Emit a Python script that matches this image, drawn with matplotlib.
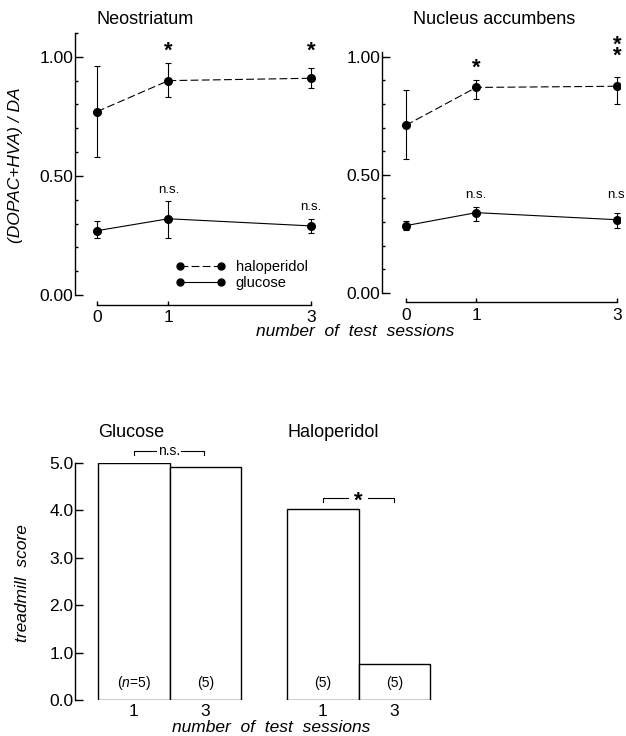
import matplotlib
matplotlib.use('Agg')
import matplotlib.pyplot as plt
from matplotlib.lines import Line2D
from matplotlib.ticker import MultipleLocator
import numpy as np

plt.rcParams['font.family'] = ['Liberation Sans', 'DejaVu Sans']
plt.rcParams['mathtext.fontset'] = 'custom'
plt.rcParams['mathtext.rm'] = 'Liberation Sans'
plt.rcParams['mathtext.it'] = 'Liberation Sans:italic'

W, H = 626, 736

# ── data ─────────────────────────────────────────────────────────────────────
sessions = [0, 1, 3]

neo_halo_mean = [0.77, 0.90, 0.91]
neo_halo_lo   = [0.58, 0.83, 0.87]
neo_halo_hi   = [0.96, 0.975, 0.955]
neo_glu_mean  = [0.27, 0.32, 0.29]
neo_glu_lo    = [0.24, 0.24, 0.26]
neo_glu_hi    = [0.31, 0.395, 0.32]

acc_halo_mean = [0.71, 0.87, 0.875]
acc_halo_lo   = [0.565, 0.82, 0.80]
acc_halo_hi   = [0.86, 0.90, 0.915]
acc_glu_mean  = [0.285, 0.34, 0.31]
acc_glu_lo    = [0.265, 0.305, 0.275]
acc_glu_hi    = [0.305, 0.365, 0.34]

bar_sessions  = ['1', '3']
glucose_score = [5.0, 4.92]
halo_score    = [4.04, 0.75]
n_labels_glu  = ['($n$=5)', '(5)']
n_labels_halo = ['(5)', '(5)']

DASH = (0, (7, 3))
STAR = dict(ha='center', va='baseline', fontsize=16, fontweight='bold', clip_on=False)


def px_axes(left, top, right, bottom):
    return fig.add_axes([left / W, 1 - bottom / H, (right - left) / W, (bottom - top) / H])


def style_top(ax, ytop):
    ax.set_ylim(-0.04, ytop)
    ax.spines['top'].set_visible(False)
    ax.spines['right'].set_visible(False)
    ax.spines['left'].set_bounds(0, ytop if ytop < 1.05 else 1.1)
    ax.spines['bottom'].set_bounds(0, 3)
    for sp in ('left', 'bottom'):
        ax.spines[sp].set_linewidth(1.0)
    ax.set_yticks([0, 0.5, 1.0])
    ax.set_yticklabels(['0.00', '0.50', '1.00'])
    ax.yaxis.set_minor_locator(MultipleLocator(0.1))
    ax.tick_params(axis='y', which='major', direction='in', length=6, width=1,
                   pad=1, labelsize=12.5)
    ax.tick_params(axis='y', which='minor', direction='in', length=2.5, width=1)
    ax.set_xticks(sessions)
    ax.tick_params(axis='x', direction='in', length=3, width=1, pad=4, labelsize=12.5)


def draw_series(ax, mean, lo, hi, ls):
    mean = np.array(mean)
    yerr = [mean - np.array(lo), np.array(hi) - mean]
    ax.errorbar(sessions, mean, yerr=yerr, color='black', ls=ls, lw=0.8,
                marker='o', ms=5.5, capsize=2.5, elinewidth=0.8, capthick=0.8)


fig = plt.figure(figsize=(W / 100, H / 100), dpi=100)

# ── Neostriatum ──────────────────────────────────────────────────────────────
ax1 = px_axes(75, 33, 314.6, 304.5)
ax1.set_xlim(-0.31, 3.05)
draw_series(ax1, neo_halo_mean, neo_halo_lo, neo_halo_hi, DASH)
draw_series(ax1, neo_glu_mean, neo_glu_lo, neo_glu_hi, '-')
style_top(ax1, 1.1)
ax1.text(1, 1.0, '*', **STAR)
ax1.text(3, 1.0, '*', **STAR)
ax1.text(1, 0.44, 'n.s.', ha='center', va='center', fontsize=9.5)
ax1.text(3, 0.37, 'n.s.', ha='center', va='center', fontsize=9.5)
handles = [Line2D([], [], color='black', ls=DASH, lw=0.8, marker='o', ms=5),
           Line2D([], [], color='black', ls='-', lw=0.8, marker='o', ms=5)]
fig.legend(handles, ['haloperidol', 'glucose'], loc='center left',
           bbox_to_anchor=(176 / W, 1 - 275 / H), frameon=False, numpoints=2,
           handlelength=3.4, handletextpad=0.7, labelspacing=0.15,
           borderpad=0, borderaxespad=0, fontsize=10.5)

# ── Nucleus accumbens ────────────────────────────────────────────────────────
ax2 = px_axes(382, 52, 620.4, 302.4)
ax2.set_xlim(-0.34, 3.05)
draw_series(ax2, acc_halo_mean, acc_halo_lo, acc_halo_hi, DASH)
draw_series(ax2, acc_glu_mean, acc_glu_lo, acc_glu_hi, '-')
style_top(ax2, 1.02)
for a in (ax1, ax2):
    for t in a.get_xticklabels() + a.get_yticklabels():
        t.set_clip_on(False)
ax2.text(1, 0.928, '*', **STAR)
ax2.text(3.01, 1.025, '*', **STAR)
ax2.text(3.01, 0.979, '*', **STAR)
ax2.text(1, 0.415, 'n.s.', ha='center', va='center', fontsize=9.5)
ax2.text(2.86, 0.415, 'n.s', ha='left', va='center', fontsize=9.5, clip_on=False)

fig.text(97 / W, 1 - 20 / H, 'Neostriatum', ha='left', va='center', fontsize=13)
fig.text(413 / W, 1 - 20 / H, 'Nucleus accumbens', ha='left', va='center', fontsize=13)
fig.text(16 / W, 1 - 165 / H, '(DOPAC+HVA) / DA', rotation=90, ha='center',
         va='center', fontsize=12.5, style='italic')
fig.text(355 / W, 1 - 332 / H, 'number  of  test  sessions', ha='center',
         va='center', fontsize=12.5, style='italic')

# ── Treadmill bars ───────────────────────────────────────────────────────────
ax3 = px_axes(75, 463, 455.75, 700)
ax3.set_xlim(-0.825, 4.5)
ax3.set_ylim(0, 5.0)
glu_x = np.arange(len(glucose_score))
halo_x = glu_x + 2.64
ax3.bar(glu_x, glucose_score, width=1.0, color='white', edgecolor='black', lw=1.0)
ax3.bar(halo_x, halo_score, width=1.0, color='white', edgecolor='black', lw=1.0)
for x, lab in zip(glu_x, n_labels_glu):
    ax3.text(x, 0.36, lab, ha='center', va='center', fontsize=10)
for x, lab in zip(halo_x, n_labels_halo):
    ax3.text(x, 0.36, lab, ha='center', va='center', fontsize=10)
ax3.set_xticks(list(glu_x) + list(halo_x))
ax3.set_xticklabels(bar_sessions + bar_sessions)
ax3.tick_params(axis='x', length=0, pad=3, labelsize=12.5)
ax3.set_yticks(np.arange(0, 5.01, 1.0))
ax3.set_yticklabels([f'{v:.1f}' for v in np.arange(0, 5.01, 1.0)])
ax3.tick_params(axis='y', direction='in', length=6, width=1, pad=1, labelsize=12.5)
for sp in ('top', 'right', 'bottom'):
    ax3.spines[sp].set_visible(False)
ax3.spines['left'].set_linewidth(1.0)

# significance brackets
def bracket(ax, x0, x1, y, label, fs):
    ax.plot([x0, x0, x1, x1], [y - 0.08, y, y, y - 0.08], color='black',
            lw=0.8, clip_on=False)
    ax.text((x0 + x1) / 2, y, label, ha='center', va='center', fontsize=fs,
            bbox=dict(facecolor='white', edgecolor='none', pad=1), clip_on=False)

bracket(ax3, glu_x[0], glu_x[1] - 0.02, 5.25, 'n.s.', 10)
bracket(ax3, halo_x[0], halo_x[1], 4.26, '    ', 10)
ax3.text(np.mean(halo_x), 4.07, '*', **STAR)

ax3.text(-0.5, 5.65, 'Glucose', ha='left', va='center', fontsize=13, clip_on=False)
ax3.text(halo_x[0] - 0.5, 5.65, 'Haloperidol', ha='left', va='center',
         fontsize=13, clip_on=False)
fig.text(23 / W, 1 - 583 / H, 'treadmill  score', rotation=90, ha='center',
         va='center', fontsize=12.5, style='italic')
fig.text(271 / W, 1 - 727 / H, 'number  of  test  sessions', ha='center',
         va='center', fontsize=12.5, style='italic')

fig.savefig('out.png', dpi=100, facecolor='white')
